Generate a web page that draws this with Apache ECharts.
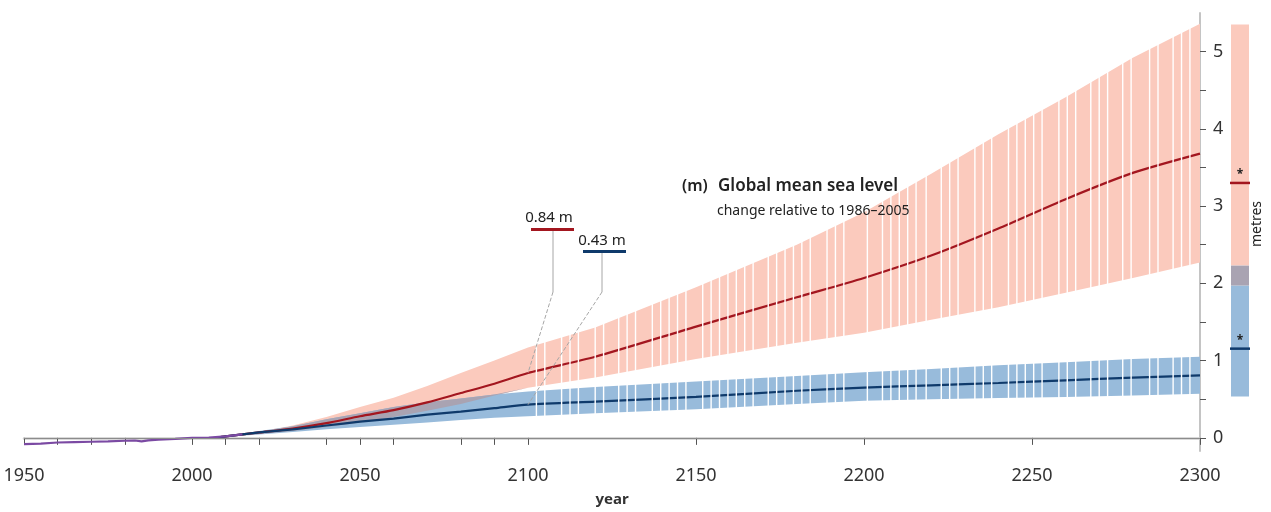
<!DOCTYPE html>
<html>
<head>
<meta charset="utf-8">
<script src="https://cdn.jsdelivr.net/npm/echarts@6/dist/echarts.min.js"></script>
<style>
html, body { margin: 0; padding: 0; background: #fff; }
#chart { width: 1271px; height: 512px; }
</style>
</head>
<body>
<div id="chart"></div>
<script>
// observed sea level (m, relative to 1986-2005)
const obsYears = [1950, 1955, 1960, 1965, 1970, 1975, 1980, 1983, 1985, 1987, 1990, 1995, 2000, 2005, 2010, 2015];
const obsLevel = [-0.08, -0.074, -0.06, -0.055, -0.05, -0.045, -0.037, -0.034, -0.045, -0.032, -0.022, -0.012, 0.0, 0.005, 0.02, 0.045];

// projections
const projYears = [2007, 2010, 2020, 2030, 2040, 2050, 2060, 2070, 2080, 2090, 2100, 2120, 2150, 2180, 2200, 2220, 2240, 2260, 2280, 2300];
const rcp85Mid = [0.00, 0.02, 0.07, 0.12, 0.19, 0.28, 0.36, 0.46, 0.58, 0.70, 0.84, 1.05, 1.44, 1.82, 2.07, 2.36, 2.71, 3.09, 3.43, 3.68];
const rcp85Lo  = [0.00, 0.015, 0.05, 0.09, 0.14, 0.20, 0.27, 0.35, 0.44, 0.55, 0.65, 0.78, 1.02, 1.23, 1.36, 1.53, 1.69, 1.88, 2.07, 2.27];
const rcp85Hi  = [0.00, 0.02, 0.08, 0.16, 0.27, 0.40, 0.52, 0.67, 0.84, 1.00, 1.17, 1.43, 1.95, 2.50, 2.92, 3.42, 3.93, 4.41, 4.92, 5.36];
const rcp26Mid = [0.00, 0.02, 0.07, 0.11, 0.16, 0.21, 0.25, 0.30, 0.34, 0.385, 0.43, 0.47, 0.53, 0.61, 0.65, 0.68, 0.71, 0.745, 0.78, 0.81];
const rcp26Lo  = [0.00, 0.015, 0.045, 0.075, 0.11, 0.14, 0.17, 0.20, 0.23, 0.26, 0.28, 0.32, 0.37, 0.44, 0.48, 0.50, 0.515, 0.53, 0.55, 0.57];
const rcp26Hi  = [0.00, 0.025, 0.09, 0.15, 0.24, 0.32, 0.40, 0.46, 0.51, 0.56, 0.60, 0.66, 0.73, 0.80, 0.85, 0.89, 0.94, 0.98, 1.02, 1.05];

// white separators of the post-2100 bars
const gapYears = [2102.5, 2105, 2110, 2112.5, 2115, 2120, 2122.5, 2127, 2129.5, 2132, 2137, 2139.5, 2142, 2144.5, 2147,
  2152, 2154.5, 2157, 2159.5, 2162, 2164.5, 2167, 2171.5, 2174, 2176.5, 2179, 2181.5, 2184, 2189, 2191.5, 2194,
  2201, 2205.5, 2208, 2210.5, 2213, 2215.5, 2218.5, 2223, 2225.5, 2228, 2233, 2235.5, 2238, 2243, 2245.5, 2248,
  2250.5, 2253, 2258, 2260.5, 2263, 2267.5, 2270, 2272.5, 2277, 2279.5, 2285, 2287.5, 2292, 2294.5, 2297];

// 2300 ranges shown in the side bar: [low, high, median]
const rcp85Bar2300 = [1.97, 5.35, 3.30];
const rcp26Bar2300 = [0.535, 2.23, 1.155];

// axis ticks and labels
const xLabelYears = [1950, 2000, 2050, 2100, 2150, 2200, 2250, 2300];
const xTickYears = [1950, 1960, 1970, 1980, 2000, 2010, 2020, 2040, 2050, 2060, 2080, 2090, 2100, 2150, 2200, 2250, 2300];
const yLabelValues = [0, 1, 2, 3, 4, 5];
const yTickValues = [0, 0.5, 1, 1.5, 2, 2.5, 3, 3.5, 4, 4.5, 5];

const FONT = '"Noto Sans", "Open Sans", sans-serif';
const PINK = '#fbcabd', BLUE = '#98bbdb', GREY = '#a9a3b2';
const RED = '#a3161f', NAVY = '#0f3a6b';

// overlap of the two ranges
const ovLo = projYears.map((_, i) => Math.max(rcp85Lo[i], rcp26Lo[i]));
const ovHi = projYears.map((_, i) => Math.max(ovLo[i], Math.min(rcp85Hi[i], rcp26Hi[i])));

function band(lo, hi, color, z) {
  return {
    type: 'custom', z: z, silent: true,
    data: projYears.map((y, i) => [y, lo[i], hi[i]]),
    renderItem: function (params, api) {
      if (params.dataIndex !== 0) return null;
      const top = projYears.map((y, i) => api.coord([y, hi[i]]));
      const bot = projYears.map((y, i) => api.coord([y, lo[i]])).reverse();
      return { type: 'polygon', shape: { points: top.concat(bot) }, style: { fill: color } };
    }
  };
}

const chart = echarts.init(document.getElementById('chart'));
chart.setOption({
  animation: false,
  grid: { left: 24, right: 71, top: 13, bottom: 60 },
  xAxis: {
    type: 'value', min: 1950, max: 2300, interval: 50,
    axisLine: { show: true, lineStyle: { color: '#cdcdcd', width: 2.5 } },
    axisTick: { show: true, customValues: xTickYears, length: 7, lineStyle: { color: '#555', width: 1 } },
    axisLabel: { customValues: xLabelYears, formatter: v => String(v), fontSize: 18, color: '#333', margin: 16, fontFamily: FONT },
    splitLine: { show: false },
    name: 'year', nameLocation: 'middle', nameGap: 41,
    nameTextStyle: { fontSize: 15, fontWeight: 'bold', color: '#333', fontFamily: FONT }
  },
  yAxis: {
    type: 'value', position: 'right', min: -0.17, max: 5.5,
    axisLine: { show: true, lineStyle: { color: '#c4c4c4', width: 2 } },
    axisTick: { show: true, customValues: yTickValues, length: 6, lineStyle: { color: '#555', width: 1 } },
    axisLabel: { customValues: yLabelValues, formatter: v => String(v), fontSize: 18, color: '#333', margin: 13, fontFamily: FONT },
    splitLine: { show: false }
  },
  series: [
    band(rcp85Lo, rcp85Hi, PINK, 1),
    band(rcp26Lo, rcp26Hi, BLUE, 1),
    band(ovLo, ovHi, GREY, 1),
    {
      type: 'line', z: 3, symbol: 'none', silent: true, smooth: 0.25,
      data: projYears.map((y, i) => [y, rcp85Mid[i]]),
      lineStyle: { color: RED, width: 2.2 }
    },
    {
      type: 'line', z: 3, symbol: 'none', silent: true, smooth: 0.25,
      data: projYears.map((y, i) => [y, rcp26Mid[i]]),
      lineStyle: { color: NAVY, width: 2.2 }
    },
    {
      type: 'custom', z: 5, silent: true,
      data: gapYears.map(y => [y, 0.1]),
      renderItem: function (params, api) {
        const a = api.coord([api.value(0), 0.1]);
        const b = api.coord([api.value(0), 5.5]);
        return { type: 'line', shape: { x1: a[0], y1: a[1], x2: b[0], y2: b[1] }, style: { stroke: '#fff', lineWidth: 1.4 } };
      }
    },
    {
      type: 'line', z: 4, symbol: 'none', silent: true,
      data: obsYears.map((y, i) => [y, obsLevel[i]]),
      lineStyle: { color: '#7b4aa3', width: 2.2 },
      markLine: {
        silent: true, symbol: ['none', 'none'], label: { show: false },
        lineStyle: { color: '#8c8c8c', width: 1.2, type: 'solid' },
        data: [{ yAxis: 0 }]
      }
    }
  ]
});

// annotations
const px = (x, y) => chart.convertToPixel({ gridIndex: 0 }, [x, y]);
const yPx = v => chart.convertToPixel({ yAxisIndex: 0 }, v);
const i2100 = projYears.indexOf(2100);
const redEnd = px(2100, rcp85Mid[i2100]);
const blueEnd = px(2100, rcp26Mid[i2100]);

function txt(text, x, y, size, weight, align) {
  return { type: 'text', z: 20, style: { text: text, x: x, y: y, fontSize: size, fontWeight: weight || 'normal',
    fontFamily: FONT, fill: '#222', align: align || 'left', verticalAlign: 'middle' } };
}
function seg(x1, y1, x2, y2, color, w, dash) {
  return { type: 'line', z: 19, shape: { x1: x1, y1: y1, x2: x2, y2: y2 },
    style: { stroke: color, lineWidth: w, lineDash: dash || null } };
}
function rect(x, v0, v1, color) {
  const t = yPx(v1), b = yPx(v0);
  return { type: 'rect', z: 18, shape: { x: x, y: t, width: 18, height: b - t }, style: { fill: color } };
}

const barX = 1231;
chart.setOption({
  graphic: [
    txt('(m)', 682, 186, 16, 600),
    txt('Global mean sea level', 718, 186, 17, 600),
    txt('change relative to 1986\u20132005', 717, 211, 14),

    txt(rcp85Mid[i2100].toFixed(2) + ' m', 549, 218, 15, 'normal', 'center'),
    seg(531, 229.5, 574, 229.5, RED, 3),
    seg(553, 231, 553, 292, '#a6a6a6', 1),
    seg(553, 292, redEnd[0], redEnd[1], '#a6a6a6', 1, [4, 2]),

    txt(rcp26Mid[i2100].toFixed(2) + ' m', 602, 241, 15, 'normal', 'center'),
    seg(583, 251.5, 626, 251.5, NAVY, 3),
    seg(602, 253, 602, 292, '#a6a6a6', 1),
    seg(602, 292, blueEnd[0], blueEnd[1], '#a6a6a6', 1, [4, 2]),

    rect(barX, rcp26Bar2300[1], rcp85Bar2300[1], PINK),
    rect(barX, rcp85Bar2300[0], rcp26Bar2300[1], GREY),
    rect(barX, rcp26Bar2300[0], rcp85Bar2300[0], BLUE),
    seg(barX - 1, yPx(rcp85Bar2300[2]), barX + 19, yPx(rcp85Bar2300[2]), RED, 2.5),
    seg(barX - 1, yPx(rcp26Bar2300[2]), barX + 19, yPx(rcp26Bar2300[2]), NAVY, 2.5),
    txt('*', barX + 9, yPx(rcp85Bar2300[2]) - 8, 12, 'bold', 'center'),
    txt('*', barX + 9, yPx(rcp26Bar2300[2]) - 8, 12, 'bold', 'center'),
    {
      type: 'text', z: 20, x: 1257, y: 224, rotation: Math.PI / 2,
      style: { text: 'metres', x: 0, y: 0, fontSize: 14, fontFamily: FONT, fill: '#222', align: 'center', verticalAlign: 'middle' }
    }
  ]
});
</script>
</body>
</html>
